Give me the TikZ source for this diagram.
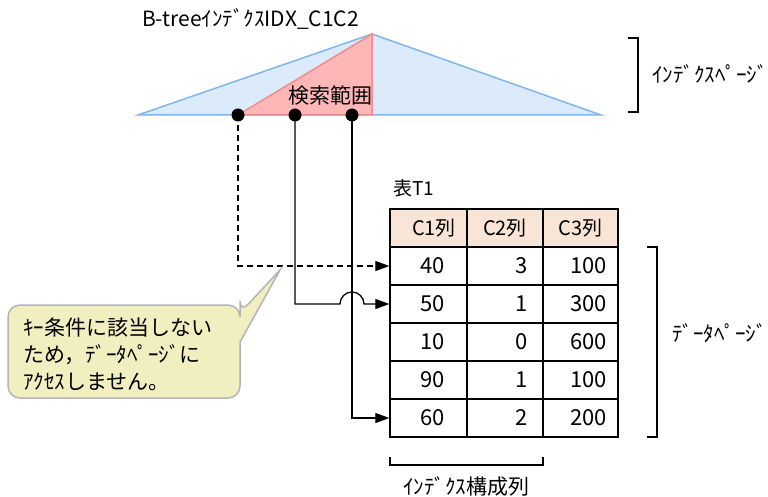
\documentclass[tikz,border=0pt]{standalone}
\usepackage{fontspec}
\setmainfont{Noto Sans CJK JP}
\usetikzlibrary{arrows.meta}
\definecolor{idxfill}{HTML}{DCEBFB}
\definecolor{idxline}{HTML}{80B5F0}
\definecolor{rngfill}{HTML}{FFB6B6}
\definecolor{rngline}{HTML}{F28C8C}
\definecolor{headfill}{HTML}{F8E5D5}
\definecolor{notefill}{HTML}{F1EEC0}
\definecolor{noteline}{HTML}{B4B4B4}
\begin{document}
\begin{tikzpicture}[x=1pt,y=-1pt,
  lbl/.style={font=\fontsize{21}{23}\selectfont, inner sep=0pt},
  dot/.style={circle, fill=black, minimum size=13pt, inner sep=0pt},
  cell/.style={draw=black, line width=1.4pt, minimum height=38pt, inner ysep=0pt, font=\fontsize{22}{24}\selectfont, align=right},
  c1/.style={cell, text width=33pt, inner xsep=22pt, minimum width=77pt},
  c2/.style={cell, text width=46pt, inner xsep=15pt, minimum width=76pt},
  c3/.style={cell, text width=53pt, inner xsep=11pt, minimum width=75pt},
  head/.style={fill=headfill, align=center, font=\fontsize{20}{22}\selectfont},
  conn/.style={line width=1.3pt, -{Triangle[length=14pt,width=10pt]}},
  brk/.style={line width=1.5pt},
  notebox/.style={fill=notefill, draw=noteline, line width=1.5pt}
]
\useasboundingbox (0,0) rectangle (768,497);

% index triangle
\coordinate (L) at (138,115);
\coordinate (A) at (372,34);
\coordinate (R) at (601,115);
\coordinate (S) at (238,115);
\coordinate (B) at (372,115);
\fill[idxfill] (L) -- (A) -- (R) -- cycle;
\draw[idxline, line width=1.5pt] (L) -- (A) -- (R) -- cycle;
\fill[rngfill] (S) -- (A) -- (B) -- cycle;
\draw[rngline, line width=1.5pt] (S) -- (A) -- (B) -- cycle;
\node[lbl] (range) at (330,96) {検索範囲};
\node[lbl, anchor=west] (title) at (142,19) {B-treeｲﾝﾃﾞｸｽIDX\_C1C2};

% index page bracket
\draw[brk] (628,38) -- (638,38) -- (638,112) -- (628,112);
\node[lbl, anchor=west] (ipage) at (652,74) {ｲﾝﾃﾞｸｽﾍﾟｰｼﾞ};

% dots
\node[dot] (d1) at (238,115) {};
\node[dot] (d2) at (295,115) {};
\node[dot] (d3) at (352,115) {};

% table
\node[lbl, anchor=west, font=\fontsize{19}{21}\selectfont] (tname) at (393,188) {表T1};
\node[c1, head] (h1) at (428.5,228) {C1列};
\node[c2, head] (h2) at (505,228) {C2列};
\node[c3, head] (h3) at (580.5,228) {C3列};
\node[c1] (r1c1) at (428.5,266) {40};
\node[c2] (r1c2) at (505,266) {3};
\node[c3] (r1c3) at (580.5,266) {100};
\node[c1] (r2c1) at (428.5,304) {50};
\node[c2] (r2c2) at (505,304) {1};
\node[c3] (r2c3) at (580.5,304) {300};
\node[c1] (r3c1) at (428.5,342) {10};
\node[c2] (r3c2) at (505,342) {0};
\node[c3] (r3c3) at (580.5,342) {600};
\node[c1] (r4c1) at (428.5,380) {90};
\node[c2] (r4c2) at (505,380) {1};
\node[c3] (r4c3) at (580.5,380) {100};
\node[c1] (r5c1) at (428.5,418) {60};
\node[c2] (r5c2) at (505,418) {2};
\node[c3] (r5c3) at (580.5,418) {200};

% data page bracket
\draw[brk] (647,247) -- (657,247) -- (657,437) -- (647,437);
\node[lbl, anchor=west] (dpage) at (672,333) {ﾃﾞｰﾀﾍﾟｰｼﾞ};

% index columns bracket
\draw[brk] (390,457) -- (390,465) -- (543,465) -- (543,457);
\node[lbl] (icols) at (466,486) {ｲﾝﾃﾞｸｽ構成列};

% connectors
\draw[conn, dashed, dash pattern=on 6pt off 4pt] (d1.center) |- (r1c1.west);
\coordinate (hop) at (340,304);
\draw[conn] (d2.center) |- (hop) arc[start angle=180, end angle=0, radius=12pt] -- (r2c1.west);
\draw[conn] (d3.center) |- (r5c1.west);

% callout
\draw[notebox, rounded corners=12pt] (8,305) -- (240,305) -- (240,313) [sharp corners] -- (280,270) -- (240,342) [rounded corners=12pt] -- (240,398) -- (8,398) -- cycle;
\node[anchor=north west, align=left, inner sep=0pt, font=\fontsize{21}{27}\selectfont] (note) at (23,318) {ｷｰ条件に該当しない\\ため，ﾃﾞｰﾀﾍﾟｰｼﾞに\\ｱｸｾｽしません。};
\end{tikzpicture}
\end{document}
